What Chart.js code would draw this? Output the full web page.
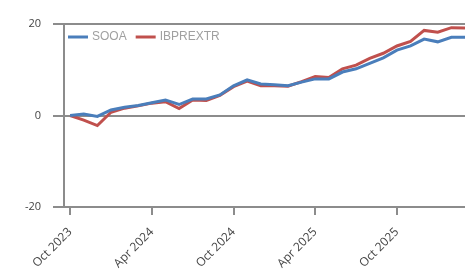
<!DOCTYPE html>
<html>
<head>
<meta charset="utf-8">
<script src="https://cdn.jsdelivr.net/npm/chart.js@4.4.1/dist/chart.umd.min.js"></script>
<style>
  html, body { margin: 0; padding: 0; background: #fff; overflow: hidden; }
  #wrap { width: 465px; height: 271px; }
</style>
</head>
<body>
<div id="wrap"><canvas id="chart" width="465" height="271"></canvas></div>
<script>
// Months since Oct 2023 (monthly points, Oct 2023 .. Mar 2026)
const months = [0, 1, 2, 3, 4, 5, 6, 7, 8, 9, 10, 11, 12, 13, 14, 15, 16, 17, 18, 19, 20, 21, 22, 23, 24, 25, 26, 27, 28, 29];

// Cumulative return (%)
const sooa = [0, 0.3, -0.2, 1.2, 1.8, 2.2, 2.8, 3.4, 2.4, 3.6, 3.6, 4.5, 6.5, 7.8, 6.9, 6.7, 6.5, 7.3, 8.0, 8.0, 9.5, 10.2, 11.4, 12.6, 14.3, 15.2, 16.7, 16.1, 17.1, 17.1];
const ibprextr = [0, -1.0, -2.2, 0.7, 1.6, 2.1, 2.7, 3.0, 1.5, 3.4, 3.3, 4.4, 6.3, 7.5, 6.5, 6.5, 6.4, 7.4, 8.5, 8.3, 10.2, 11.0, 12.5, 13.6, 15.2, 16.2, 18.6, 18.2, 19.2, 19.1];

// x tick positions and labels
const tickMonths = [0, 6, 12, 18, 24];
const tickLabels = ['Oct 2023', 'Apr 2024', 'Oct 2024', 'Apr 2025', 'Oct 2025'];
const yTicks = [-20, 0, 20];

// visible x range (months); the plot starts a little before Oct 2023
const xMin = -0.45;
const xMax = 29;

const gray = '#8c8c8c';
const blue = '#4a7ebb';
const red = '#c0504d';

function toPoints(vals) {
    return vals.map((v, i) => ({ x: months[i], y: v }));
}

// Legend drawn inside the plot, top-left, in a single row
const insideLegend = {
    id: 'insideLegend',
    afterDraw(chart) {
        const ctx = chart.ctx;
        const area = chart.chartArea;
        let x = area.left + 4;
        const y = area.top + 13;
        ctx.save();
        ctx.font = '12px "Liberation Sans"';
        ctx.textBaseline = 'middle';
        chart.data.datasets.forEach(ds => {
            ctx.strokeStyle = ds.borderColor;
            ctx.lineWidth = 3;
            ctx.beginPath();
            ctx.moveTo(x, y);
            ctx.lineTo(x + 20, y);
            ctx.stroke();
            x += 24;
            ctx.fillStyle = '#a0a0a0';
            ctx.fillText(ds.label, x, y);
            x += ctx.measureText(ds.label).width + 9;
        });
        ctx.restore();
    }
};

new Chart(document.getElementById('chart'), {
    type: 'line',
    data: {
        datasets: [
            {
                label: 'SOOA',
                data: toPoints(sooa),
                borderColor: blue,
                backgroundColor: blue,
                borderWidth: 3,
                pointRadius: 0,
                tension: 0
            },
            {
                label: 'IBPREXTR',
                data: toPoints(ibprextr),
                borderColor: red,
                backgroundColor: red,
                borderWidth: 3,
                pointRadius: 0,
                tension: 0
            }
        ]
    },
    plugins: [insideLegend],
    options: {
        responsive: false,
        animation: false,
        layout: { padding: { top: 24, right: 0, left: 0, bottom: 0 } },
        plugins: {
            tooltip: { enabled: false },
            legend: { display: false }
        },
        scales: {
            x: {
                type: 'linear',
                min: xMin,
                max: xMax,
                afterBuildTicks: (scale) => {
                    scale.ticks = tickMonths.map(v => ({ value: v }));
                },
                afterFit: (scale) => { scale.height = 64; },
                ticks: {
                    autoSkip: false,
                    maxRotation: 45,
                    minRotation: 45,
                    padding: 10,
                    color: '#444',
                    font: { family: 'Open Sans', size: 12 },
                    callback: (v) => tickLabels[tickMonths.indexOf(v)]
                },
                grid: { drawOnChartArea: false, drawTicks: true, tickLength: 8, color: gray, lineWidth: 2 },
                border: { color: gray, width: 2 }
            },
            y: {
                min: -20,
                max: 20,
                afterBuildTicks: (scale) => {
                    scale.ticks = yTicks.map(v => ({ value: v }));
                },
                afterFit: (scale) => { scale.width = 64; },
                ticks: {
                    padding: 12,
                    color: '#444',
                    font: { family: 'Open Sans', size: 11 }
                },
                grid: { color: gray, lineWidth: 2, tickLength: 11 },
                border: { color: gray, width: 2 }
            }
        }
    }
});
</script>
</body>
</html>
